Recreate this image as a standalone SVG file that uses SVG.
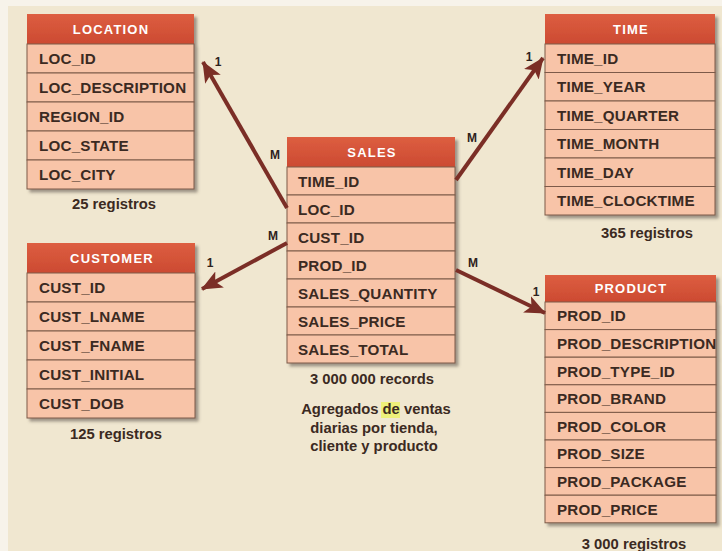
<svg xmlns="http://www.w3.org/2000/svg" width="722" height="551" viewBox="0 0 722 551">
  <defs>
    <filter id="shadow" x="-10%" y="-10%" width="130%" height="130%">
      <feDropShadow dx="3" dy="3" stdDeviation="1.6" flood-color="#5a5048" flood-opacity="0.55"/>
    </filter>
    <marker id="arrow" markerUnits="userSpaceOnUse" markerWidth="22" markerHeight="20" viewBox="0 0 22 20" refX="20" refY="10" orient="auto">
      <path d="M0,1 L21,10 L0,19 L5,10 Z" fill="#7b2e26"/>
    </marker>
    <linearGradient id="hdr" x1="0" y1="0" x2="0" y2="1">
      <stop offset="0" stop-color="#dd5e40"/>
      <stop offset="1" stop-color="#cc4a32"/>
    </linearGradient>
  </defs>
  <style>
    .hd { fill: url(#hdr); }
    .row { fill: #f8c4a8; stroke: #7d5a48; stroke-width: 1; }
    .ht { font-family: "Liberation Sans", Arial, sans-serif; font-weight: bold; font-size: 13px; letter-spacing: 1.2px; fill: #ffffff; text-anchor: middle; }
    .rt { font-family: "Liberation Sans", Arial, sans-serif; font-weight: bold; font-size: 15.2px; letter-spacing: 0.2px; fill: #3b2a22; }
    .cap { font-family: "Liberation Sans", Arial, sans-serif; font-weight: bold; font-size: 14.8px; fill: #3b2a22; text-anchor: middle; }
    .lbl { font-family: "Liberation Sans", Arial, sans-serif; font-weight: bold; font-size: 12px; fill: #2e221c; text-anchor: middle; }
    .conn { stroke: #7b2e26; stroke-width: 4; fill: none; marker-end: url(#arrow); }
  </style>

  <!-- page background -->
  <rect x="0" y="0" width="722" height="551" fill="#f7f3ea"/>
  <rect x="8" y="6" width="714" height="545" fill="#f0e7d0"/>

  <!-- LOCATION dimension -->
  <g id="location">
    <g filter="url(#shadow)">
      <rect class="hd" x="27" y="14" width="167" height="30"/>
      <rect class="row" x="27" y="44" width="167" height="29"/>
      <rect class="row" x="27" y="73" width="167" height="29"/>
      <rect class="row" x="27" y="102" width="167" height="29"/>
      <rect class="row" x="27" y="131" width="167" height="29"/>
      <rect class="row" x="27" y="160" width="167" height="29"/>
    </g>
    <text class="ht" x="111" y="34">LOCATION</text>
    <text class="rt" x="39" y="64">LOC_ID</text>
    <text class="rt" x="39" y="93">LOC_DESCRIPTION</text>
    <text class="rt" x="39" y="122">REGION_ID</text>
    <text class="rt" x="39" y="151">LOC_STATE</text>
    <text class="rt" x="39" y="180">LOC_CITY</text>
    <text class="cap" x="114" y="209">25 registros</text>
  </g>

  <!-- TIME dimension -->
  <g id="time">
    <g filter="url(#shadow)">
      <rect class="hd" x="545" y="14" width="170" height="30"/>
      <rect class="row" x="545" y="44" width="170" height="28.5"/>
      <rect class="row" x="545" y="72.5" width="170" height="28.5"/>
      <rect class="row" x="545" y="101" width="170" height="28.5"/>
      <rect class="row" x="545" y="129.5" width="170" height="28.5"/>
      <rect class="row" x="545" y="158" width="170" height="28.5"/>
      <rect class="row" x="545" y="186.5" width="170" height="28.5"/>
    </g>
    <text class="ht" x="631" y="34">TIME</text>
    <text class="rt" x="557" y="63.5">TIME_ID</text>
    <text class="rt" x="557" y="92">TIME_YEAR</text>
    <text class="rt" x="557" y="120.5">TIME_QUARTER</text>
    <text class="rt" x="557" y="149">TIME_MONTH</text>
    <text class="rt" x="557" y="177.5">TIME_DAY</text>
    <text class="rt" x="557" y="206">TIME_CLOCKTIME</text>
    <text class="cap" x="647" y="238">365 registros</text>
  </g>

  <!-- SALES fact table -->
  <g id="sales">
    <g filter="url(#shadow)">
      <rect class="hd" x="287" y="137" width="168" height="30"/>
      <rect class="row" x="287" y="167" width="168" height="28"/>
      <rect class="row" x="287" y="195" width="168" height="28"/>
      <rect class="row" x="287" y="223" width="168" height="28"/>
      <rect class="row" x="287" y="251" width="168" height="28"/>
      <rect class="row" x="287" y="279" width="168" height="28"/>
      <rect class="row" x="287" y="307" width="168" height="28"/>
      <rect class="row" x="287" y="335" width="168" height="28"/>
    </g>
    <text class="ht" x="372" y="157">SALES</text>
    <text class="rt" x="298" y="186.5">TIME_ID</text>
    <text class="rt" x="298" y="214.5">LOC_ID</text>
    <text class="rt" x="298" y="242.5">CUST_ID</text>
    <text class="rt" x="298" y="270.5">PROD_ID</text>
    <text class="rt" x="298" y="298.5">SALES_QUANTITY</text>
    <text class="rt" x="298" y="326.5">SALES_PRICE</text>
    <text class="rt" x="298" y="354.5">SALES_TOTAL</text>
    <text class="cap" x="372" y="384">3 000 000 records</text>
    <!-- yellow marker behind the word "de" -->
    <rect x="381" y="402" width="19" height="16" fill="#eef07a"/>
    <text class="cap" x="376" y="414">Agregados de ventas</text>
    <text class="cap" x="374" y="433">diarias por tienda,</text>
    <text class="cap" x="374" y="451">cliente y producto</text>
  </g>

  <!-- CUSTOMER dimension -->
  <g id="customer">
    <g filter="url(#shadow)">
      <rect class="hd" x="27" y="243" width="168" height="30"/>
      <rect class="row" x="27" y="273" width="168" height="29"/>
      <rect class="row" x="27" y="302" width="168" height="29"/>
      <rect class="row" x="27" y="331" width="168" height="29"/>
      <rect class="row" x="27" y="360" width="168" height="29"/>
      <rect class="row" x="27" y="389" width="168" height="29"/>
    </g>
    <text class="ht" x="112" y="263">CUSTOMER</text>
    <text class="rt" x="39" y="293">CUST_ID</text>
    <text class="rt" x="39" y="322">CUST_LNAME</text>
    <text class="rt" x="39" y="351">CUST_FNAME</text>
    <text class="rt" x="39" y="380">CUST_INITIAL</text>
    <text class="rt" x="39" y="409">CUST_DOB</text>
    <text class="cap" x="116" y="439">125 registros</text>
  </g>

  <!-- PRODUCT dimension -->
  <g id="product">
    <g filter="url(#shadow)">
      <rect class="hd" x="545" y="275" width="171" height="27"/>
      <rect class="row" x="545" y="302" width="171" height="27.6"/>
      <rect class="row" x="545" y="329.6" width="171" height="27.6"/>
      <rect class="row" x="545" y="357.2" width="171" height="27.6"/>
      <rect class="row" x="545" y="384.8" width="171" height="27.6"/>
      <rect class="row" x="545" y="412.4" width="171" height="27.6"/>
      <rect class="row" x="545" y="440" width="171" height="27.6"/>
      <rect class="row" x="545" y="467.6" width="171" height="27.6"/>
      <rect class="row" x="545" y="495.2" width="171" height="27.6"/>
    </g>
    <text class="ht" x="631" y="293">PRODUCT</text>
    <text class="rt" x="557" y="321.3">PROD_ID</text>
    <text class="rt" x="557" y="348.9">PROD_DESCRIPTION</text>
    <text class="rt" x="557" y="376.5">PROD_TYPE_ID</text>
    <text class="rt" x="557" y="404.1">PROD_BRAND</text>
    <text class="rt" x="557" y="431.7">PROD_COLOR</text>
    <text class="rt" x="557" y="459.3">PROD_SIZE</text>
    <text class="rt" x="557" y="486.9">PROD_PACKAGE</text>
    <text class="rt" x="557" y="514.5">PROD_PRICE</text>
    <text class="cap" x="634" y="549">3 000 registros</text>
  </g>

  <!-- relationships: many SALES rows to one dimension row -->
  <g id="connectors">
    <line class="conn" x1="287" y1="208" x2="203" y2="62"/>
    <line class="conn" x1="287" y1="243" x2="202" y2="289"/>
    <line class="conn" x1="456" y1="180" x2="543" y2="58"/>
    <line class="conn" x1="456" y1="270" x2="545" y2="313"/>
    <text class="lbl" x="275" y="159">M</text>
    <text class="lbl" x="218" y="66">1</text>
    <text class="lbl" x="273" y="240">M</text>
    <text class="lbl" x="210" y="267">1</text>
    <text class="lbl" x="472" y="142">M</text>
    <text class="lbl" x="529" y="61">1</text>
    <text class="lbl" x="473" y="267">M</text>
    <text class="lbl" x="536" y="296">1</text>
  </g>
</svg>
